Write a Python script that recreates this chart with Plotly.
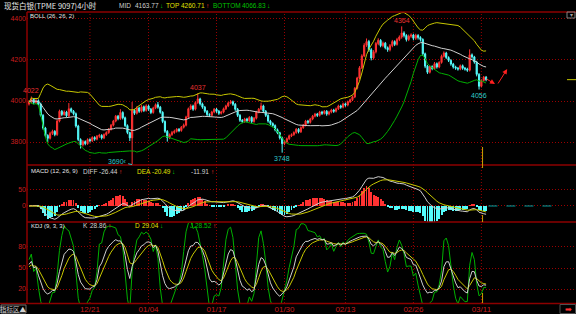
import plotly.graph_objects as go
import pandas as pd

# ---------------- data ----------------
opens = [
    3985, 3995, 4008, 3992, 4002, 3985, 3930, 3868, 3832, 3818,
    3842, 3852, 3836, 3902, 3950, 3934, 3946, 3928, 3962, 3950,
    3938, 3878, 3812, 3786, 3802, 3792, 3812, 3806, 3822, 3814,
    3828, 3832, 3820, 3836, 3846, 3862, 3882, 3902, 3926, 3914,
    3944, 3918, 3880, 3846, 3820, 3955, 3940, 3966, 3950, 3972,
    3954, 3976, 3960, 3944, 3966, 3982, 3970, 3945, 3900, 3852,
    3822, 3836, 3846, 3852, 3862, 3856, 3872, 3882, 3922, 3962,
    3976, 3960, 3992, 4010, 3986, 3970, 3950, 3934, 3930, 3946,
    3960, 3950, 3940, 3946, 3962, 3976, 3990, 3996, 3984, 3960,
    3930, 3906, 3900, 3912, 3904, 3920, 3900, 3916, 3946, 3960,
    3976, 3950, 3930, 3902, 3890, 3880, 3860, 3845, 3820, 3792,
    3800, 3816, 3830, 3836, 3846, 3862, 3850, 3870, 3882, 3902,
    3896, 3912, 3926, 3936, 3930, 3946, 3940, 3950, 3936, 3946,
    3956, 3950, 3962, 3976, 3970, 3986, 3980, 3996, 4006, 4020,
    4062, 4112, 4162, 4220, 4272, 4290, 4250, 4210, 4240, 4280,
    4296, 4270, 4282, 4260, 4250, 4270, 4290, 4276, 4300, 4312,
    4332, 4320, 4300, 4316, 4322, 4306, 4320, 4310, 4300, 4230,
    4170, 4140, 4168, 4158, 4182, 4166, 4188, 4218, 4234, 4212,
    4198, 4180, 4166, 4160, 4156, 4172, 4160, 4156, 4150, 4225,
    4215, 4190, 4130, 4072, 4100, 4116,
]
closes = [
    3995, 4008, 3992, 4002, 3985, 3930, 3868, 3832, 3818, 3842,
    3852, 3836, 3902, 3950, 3934, 3946, 3928, 3962, 3950, 3938,
    3878, 3812, 3786, 3802, 3792, 3812, 3806, 3822, 3814, 3828,
    3832, 3820, 3836, 3846, 3862, 3882, 3902, 3926, 3914, 3944,
    3918, 3880, 3846, 3820, 3955, 3940, 3966, 3950, 3972, 3954,
    3976, 3960, 3944, 3966, 3982, 3970, 3945, 3900, 3852, 3822,
    3836, 3846, 3852, 3862, 3856, 3872, 3882, 3922, 3962, 3976,
    3960, 3992, 4010, 3986, 3970, 3950, 3934, 3930, 3946, 3960,
    3950, 3940, 3946, 3962, 3976, 3990, 3996, 3984, 3960, 3930,
    3906, 3900, 3912, 3904, 3920, 3900, 3916, 3946, 3960, 3976,
    3950, 3930, 3902, 3890, 3880, 3860, 3845, 3820, 3792, 3800,
    3816, 3830, 3836, 3846, 3862, 3850, 3870, 3882, 3902, 3896,
    3912, 3926, 3936, 3930, 3946, 3940, 3950, 3936, 3946, 3956,
    3950, 3962, 3976, 3970, 3986, 3980, 3996, 4006, 4020, 4062,
    4112, 4162, 4220, 4272, 4290, 4250, 4210, 4240, 4280, 4296,
    4270, 4282, 4260, 4250, 4270, 4290, 4276, 4300, 4312, 4332,
    4320, 4300, 4316, 4322, 4306, 4320, 4310, 4300, 4230, 4170,
    4140, 4168, 4158, 4182, 4166, 4188, 4218, 4234, 4212, 4198,
    4180, 4166, 4160, 4156, 4172, 4160, 4156, 4150, 4225, 4215,
    4190, 4130, 4072, 4100, 4116, 4104,
]
highs = [
    4004, 4022, 4014, 4010, 4008, 3992, 3936, 3874, 3838, 3850,
    3860, 3858, 3910, 3958, 3956, 3954, 3952, 3990, 3968, 3956,
    3944, 3884, 3818, 3810, 3808, 3818, 3818, 3828, 3828, 3834,
    3840, 3838, 3842, 3852, 3868, 3888, 3908, 3932, 3932, 3960,
    3950, 3924, 3886, 3850, 3995, 3962, 3974, 3972, 3980, 3978,
    3984, 3982, 3966, 3972, 3988, 3995, 3976, 3950, 3906, 3858,
    3842, 3854, 3860, 3868, 3868, 3878, 3890, 3928, 3968, 3984,
    3982, 3998, 4037, 4016, 3992, 3976, 3956, 3940, 3952, 3966,
    3966, 3956, 3952, 3968, 3982, 3996, 4005, 4002, 3990, 3966,
    3936, 3912, 3918, 3918, 3926, 3926, 3922, 3952, 3966, 3992,
    3982, 3956, 3936, 3908, 3896, 3886, 3866, 3850, 3826, 3808,
    3822, 3836, 3842, 3852, 3868, 3868, 3876, 3888, 3908, 3908,
    3918, 3932, 3942, 3942, 3952, 3952, 3956, 3956, 3952, 3962,
    3962, 3968, 3982, 3982, 3992, 3992, 4002, 4012, 4026, 4068,
    4118, 4170, 4228, 4282, 4305, 4298, 4258, 4248, 4288, 4306,
    4302, 4290, 4288, 4266, 4278, 4298, 4296, 4308, 4320, 4364,
    4340, 4326, 4324, 4330, 4328, 4328, 4326, 4316, 4306, 4236,
    4176, 4174, 4174, 4190, 4188, 4194, 4226, 4242, 4240, 4218,
    4204, 4186, 4172, 4166, 4178, 4178, 4166, 4162, 4252, 4232,
    4220, 4196, 4136, 4106, 4122, 4122,
]
lows = [
    3978, 3988, 3984, 3986, 3978, 3924, 3860, 3824, 3800, 3812,
    3834, 3828, 3830, 3896, 3926, 3928, 3920, 3922, 3942, 3930,
    3870, 3804, 3768, 3778, 3784, 3786, 3798, 3800, 3806, 3808,
    3820, 3812, 3814, 3830, 3840, 3856, 3876, 3896, 3906, 3908,
    3910, 3872, 3838, 3805, 3690, 3932, 3934, 3942, 3944, 3946,
    3948, 3952, 3936, 3938, 3960, 3962, 3938, 3892, 3844, 3802,
    3814, 3830, 3840, 3846, 3848, 3850, 3866, 3876, 3916, 3956,
    3952, 3954, 3986, 3978, 3962, 3942, 3926, 3922, 3924, 3940,
    3942, 3932, 3934, 3940, 3956, 3970, 3984, 3976, 3952, 3922,
    3898, 3892, 3894, 3896, 3898, 3892, 3894, 3910, 3940, 3954,
    3942, 3922, 3894, 3882, 3872, 3852, 3838, 3812, 3748, 3784,
    3794, 3810, 3824, 3830, 3840, 3842, 3844, 3864, 3876, 3888,
    3890, 3906, 3920, 3922, 3924, 3932, 3934, 3928, 3930, 3940,
    3942, 3944, 3956, 3962, 3964, 3972, 3974, 3990, 4000, 4014,
    4056, 4106, 4156, 4214, 4264, 4240, 4198, 4202, 4232, 4272,
    4262, 4262, 4252, 4240, 4242, 4262, 4268, 4270, 4292, 4304,
    4310, 4290, 4292, 4308, 4296, 4298, 4300, 4290, 4220, 4160,
    4132, 4134, 4150, 4152, 4158, 4160, 4182, 4212, 4204, 4190,
    4172, 4158, 4152, 4148, 4150, 4152, 4148, 4142, 4144, 4206,
    4182, 4120, 4056, 4066, 4094, 4096,
]
date_idx = [26, 51, 80, 109, 135, 164, 193]
date_labels = ["12/21", "01/04", "01/17", "01/30", "02/13", "02/26", "03/11"]
price_ticks = [3800, 4000, 4200, 4400]
macd_ticks = [0, 50]
kdj_ticks = [20, 50, 80]
# bar index, price, kind of the marked extremes
extremes = [(1, 4022, "high"), (72, 4037, "high"), (159, 4364, "high"),
            (108, 3748, "low"), (192, 4056, "low")]
big_low = (44, 3690)
# hand-drawn forecast arrows: (start bar, start price, end bar, end price)
forecast = [(194.5, 4112, 198.8, 4083), (199.7, 4078, 204.0, 4156)]

# ---------------- indicators ----------------
idx = list(range(len(closes)))
c = pd.Series(closes, dtype=float)
h = pd.Series(highs, dtype=float)
l = pd.Series(lows, dtype=float)
mid = c.rolling(26, min_periods=1).mean()
sd = c.rolling(26, min_periods=1).std(ddof=0)
top = mid + 2 * sd
bot = mid - 2 * sd
ema12 = c.ewm(span=12, adjust=False).mean()
ema26 = c.ewm(span=26, adjust=False).mean()
diff = ema12 - ema26
dea = diff.ewm(span=9, adjust=False).mean()
hist = 2 * (diff - dea)
llv = l.rolling(9, min_periods=1).min()
hhv = h.rolling(9, min_periods=1).max()
rsv = ((c - llv) / (hhv - llv) * 100).fillna(50)
K, D = [], []
k_prev, d_prev = 50.0, 50.0
for r in rsv:
    k_prev = (2 * k_prev + r) / 3
    d_prev = (2 * d_prev + k_prev) / 3
    K.append(k_prev)
    D.append(d_prev)
J = [3 * k - 2 * d for k, d in zip(K, D)]

# ---------------- figure ----------------
W, H = 576, 314
def px(x): return x / W
def py(y): return 1 - y / H

RED = "#ff3232"
CYAN = "#54fcfc"
AXRED = "#c81e1e"
GRID = "#9a0000"
SEP = "#8c0000"
YEL = "#c8c800"
WHT = "#d0d0d0"
GRN = "#00b000"
FONT = "Liberation Sans"
CJK = "Noto Sans CJK SC"
DOT = "1px,2px"

fig = go.Figure()
fig.add_trace(go.Candlestick(
    x=idx, open=opens, high=highs, low=lows, close=closes,
    increasing=dict(line=dict(color=RED, width=1), fillcolor=RED),
    decreasing=dict(line=dict(color=CYAN, width=1), fillcolor=CYAN),
    whiskerwidth=0, hoverinfo="skip", xaxis="x", yaxis="y"))
fig.add_trace(go.Scatter(x=idx, y=top, mode="lines", line=dict(color=YEL, width=1), yaxis="y"))
fig.add_trace(go.Scatter(x=idx, y=mid, mode="lines", line=dict(color=WHT, width=1), yaxis="y"))
fig.add_trace(go.Scatter(x=idx, y=bot, mode="lines", line=dict(color=GRN, width=1), yaxis="y"))

fig.add_trace(go.Bar(x=idx, y=hist, width=0.4,
                     marker=dict(color=[RED if v >= 0 else CYAN for v in hist], line=dict(width=0)),
                     yaxis="y2"))
fig.add_trace(go.Scatter(x=idx, y=diff, mode="lines", line=dict(color=WHT, width=1), yaxis="y2"))
fig.add_trace(go.Scatter(x=idx, y=dea, mode="lines", line=dict(color=YEL, width=1), yaxis="y2"))

fig.add_trace(go.Scatter(x=idx, y=J, mode="lines", line=dict(color=GRN, width=1), yaxis="y3"))
fig.add_trace(go.Scatter(x=idx, y=D, mode="lines", line=dict(color=YEL, width=1), yaxis="y3"))
fig.add_trace(go.Scatter(x=idx, y=K, mode="lines", line=dict(color=WHT, width=1), yaxis="y3"))

x_lo = (27 - 29) / 2.344
x_hi = (576 - 29) / 2.344

def yax(dom, rng, ticks):
    return dict(domain=dom, range=rng, anchor="x", tickvals=ticks,
                ticktext=[str(t) for t in ticks],
                showgrid=True, gridcolor=GRID, griddash=DOT, gridwidth=1,
                zeroline=False, showline=False, ticks="",
                tickfont=dict(color=AXRED, size=7, family=FONT), fixedrange=True)

fig.update_layout(
    width=W, height=H, margin=dict(l=0, r=0, t=0, b=0),
    paper_bgcolor="black", plot_bgcolor="black", showlegend=False, bargap=0,
    xaxis=dict(domain=[px(27), 1], range=[x_lo, x_hi], anchor="y3",
               tickvals=date_idx, ticktext=date_labels, showgrid=False,
               zeroline=False, showline=False, ticks="",
               tickfont=dict(color=AXRED, size=8, family=FONT),
               rangeslider=dict(visible=False), fixedrange=True),
    yaxis=yax([py(165), py(12)], [3687.8, 4434.1], price_ticks),
    yaxis2=yax([py(222), py(165)], [-50, 128], macd_ticks),
    yaxis3=yax([py(303), py(222)], [0, 115.7], kdj_ticks),
)

shapes = []
# vertical dotted date grid
for d in date_idx:
    shapes.append(dict(type="line", xref="x", yref="paper", x0=d, x1=d, y0=py(303), y1=py(12),
                       line=dict(color=GRID, width=1, dash=DOT), layer="below"))
# panel separators and left axis line
for yy, x0 in [(12, 27), (165, 27), (222, 27), (303.5, 0)]:
    shapes.append(dict(type="line", xref="paper", yref="paper", x0=px(x0), x1=1, y0=py(yy), y1=py(yy),
                       line=dict(color=SEP, width=1.5)))
shapes.append(dict(type="line", xref="paper", yref="paper", x0=px(27), x1=px(27), y0=py(303.5), y1=py(12),
                   line=dict(color=SEP, width=1.5)))
# yellow cursor marks
cur = len(closes) - 2.5
for y0, y1 in [(147, 168), (215, 222), (293, 303)]:
    shapes.append(dict(type="line", xref="x", yref="paper", x0=cur, x1=cur, y0=py(y1), y1=py(y0),
                       line=dict(color="#c8a000", width=1)))
# MACD zero extension
shapes.append(dict(type="line", xref="x", yref="y2", x0=len(closes), x1=(553 - 29) / 2.344, y0=0, y1=0,
                   line=dict(color="#00a0a0", width=1, dash="dash")))
# last price marker at right edge
shapes.append(dict(type="line", xref="paper", yref="y", x0=px(567), x1=1, y0=closes[-1], y1=closes[-1],
                   line=dict(color="#c8c800", width=1)))
# boxes
shapes.append(dict(type="rect", xref="paper", yref="paper", x0=px(1), x1=px(26), y0=py(313), y1=py(305),
                   line=dict(color="#707070", width=1)))
shapes.append(dict(type="rect", xref="paper", yref="paper", x0=px(560), x1=px(575.5), y0=py(313.5), y1=py(304.5),
                   line=dict(color="#505050", width=1)))
shapes.append(dict(type="rect", xref="paper", yref="paper", x0=px(567), x1=px(575), y0=py(18), y1=py(12),
                   line=dict(color="#808080", width=1)))
fig.update_layout(shapes=shapes)

ann = []
def txt(x, y, s, color, size=6.5, anchor="left", family=FONT):
    ann.append(dict(x=px(x), y=py(y), xref="paper", yref="paper", text=s, showarrow=False,
                    xanchor=anchor, yanchor="middle", font=dict(color=color, size=size, family=family)))

txt(2, 5.5, "现货白银(TPME 9097)4小时", "#e8e8e8", 7.5, family=CJK)
txt(117, 6, "MID", WHT); txt(132.5, 6, "4163.77", WHT); txt(157.5, 6, "↓", "#00c000")
txt(163.5, 6, "TOP", "#e0e000"); txt(178.5, 6, "4260.71", "#e0e000"); txt(203.5, 6, "↑", RED)
txt(210.5, 6, "BOTTOM", "#00c000"); txt(240, 6, "4066.83", "#00c000"); txt(265, 6, "↓", "#00c000")
txt(28, 16, "BOLL (26, 26, 2)", "#e8e8e8", 6)

txt(29, 171, "MACD (12, 26, 9)", "#e8e8e8", 6)
txt(81, 171, "DIFF", WHT); txt(96.5, 171, "-26.44", WHT); txt(116.5, 171, "↑", RED)
txt(135, 171, "DEA", "#e0e000"); txt(149.5, 171, "-20.49", "#e0e000"); txt(169.5, 171, "↓", "#00c000")
txt(189, 171, "-11.91", WHT); txt(209, 171, "↑", RED)

txt(29, 226, "KDJ (9, 3, 3)", "#e8e8e8", 6)
txt(81, 226, "K", WHT); txt(88, 226, "28.86", WHT); txt(106, 226, "↑", RED)
txt(133, 226, "D", "#e0e000"); txt(139.5, 226, "29.04", "#e0e000"); txt(157.5, 226, "↓", "#00c000")
txt(188, 226, "J", "#00c000"); txt(193, 226, "28.52", "#00c000"); txt(211, 226, "↑", RED)

txt(13.5, 309, "指标区▲", "#d0d0d0", 6.5, anchor="center", family=CJK)
txt(568, 309, "➡", RED, 8, anchor="center")
txt(571, 15, "▾", "#a0a0a0", 6, anchor="center")

for b, p, kind in extremes:
    ann.append(dict(x=b, y=p, xref="x", yref="y", text=str(p), showarrow=False,
                    xanchor="center", yanchor="bottom" if kind == "high" else "top",
                    font=dict(color="#e83030" if kind == "high" else "#30c8c8", size=7, family=FONT)))
ann.append(dict(x=big_low[0], y=big_low[1], xref="x", yref="y", text=str(big_low[1]) + "‹",
                showarrow=True, ax=-15, ay=-3, arrowhead=0, arrowwidth=1, arrowcolor="#30c8c8",
                font=dict(color="#30c8c8", size=7, family=FONT)))
for x0, y0, x1, y1 in forecast:
    ann.append(dict(x=x1, y=y1, xref="x", yref="y", ax=x0, ay=y0, axref="x", ayref="y", text="",
                    showarrow=True, arrowhead=2, arrowsize=1, arrowwidth=1, arrowcolor="#ff2020"))
fig.update_layout(annotations=ann)

fig.write_html("out.html", config={"displayModeBar": False})
